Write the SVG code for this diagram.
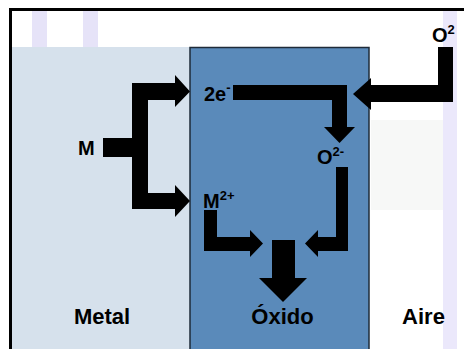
<svg xmlns="http://www.w3.org/2000/svg" width="464" height="349" viewBox="0 0 464 349">
  <style>
    .t { font-family: "Liberation Sans", Arial, sans-serif; font-weight: bold; fill: #000; }
    .lbl { font-size: 20px; }
    .big { font-size: 22px; text-anchor: middle; }
    .sup { font-size: 13px; }
    .arr { fill: #000; }
  </style>
  <rect x="0" y="0" width="464" height="349" fill="#ffffff"/>
  <g id="background">
    <rect x="32" y="11" width="15" height="36" fill="#e6e3f8"/>
    <rect x="83" y="11" width="15" height="36" fill="#e6e3f8"/>
    <rect x="443" y="11" width="14" height="338" fill="#ebe8fb"/>
    <rect x="371" y="120" width="72" height="90" fill="#f7f8f7"/>
  </g>
  <g id="metal">
    <rect x="12" y="47" width="178" height="302" fill="#d6e1ec"/>
    <text class="t big" x="102" y="324">Metal</text>
  </g>
  <g id="oxido">
    <rect x="190" y="47.5" width="179" height="303" fill="#5a8aba" stroke="#1e2b38" stroke-width="1.5"/>
    <text class="t big" x="282.5" y="324">Óxido</text>
  </g>
  <g id="aire">
    <text class="t big" x="423.5" y="324">Aire</text>
  </g>
  <path d="M10.5 349 V9.5 H464" fill="none" stroke="#000" stroke-width="3"/>
  <g id="label-M"><text class="t lbl" x="78" y="155" font-size="21">M</text></g>
  <g id="label-2e"><text class="t lbl" x="204" y="101">2e<tspan class="sup" dy="-9">-</tspan></text></g>
  <g id="label-O2minus"><text class="t lbl" x="317" y="164">O<tspan class="sup" dy="-8">2-</tspan></text></g>
  <g id="label-O2"><text class="t lbl" x="432" y="42">O<tspan class="sup" dy="-8">2</tspan></text></g>
  <g id="label-M2plus"><text class="t lbl" x="203" y="208">M<tspan class="sup" dy="-8">2+</tspan></text></g>
  <g id="connectors">
    <rect class="arr" x="103" y="138" width="30" height="19"/>
    <polygon class="arr" points="132,83 175,83 175,75 190,91.5 175,107 175,100 148,100 148,193 175,193 175,185 190,201 175,217 175,209 132,209"/>
    <polygon class="arr" points="233,85 347,85 347,127 355,127 339.5,143 324,127 332,127 332,100 233,100"/>
    <polygon class="arr" points="438,47 453,47 453,102 371,102 371,110 353,94 371,78 371,85 438,85"/>
    <polygon class="arr" points="204,210 217,210 217,237 250,237 250,230 263,243.5 250,257 250,251 204,251"/>
    <polygon class="arr" points="336,167 348,167 348,251 318,251 318,257 305,243.5 318,230 318,237 336,237"/>
    <polygon class="arr" points="272,240 295,240 295,278 307,278 283,302 259,278 272,278"/>
  </g>
</svg>
